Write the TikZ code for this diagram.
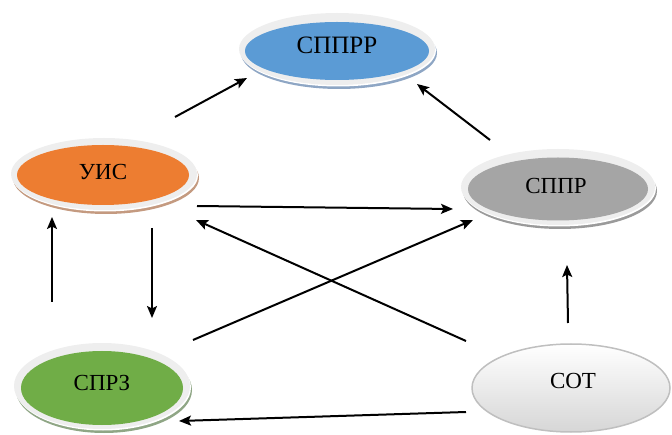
\documentclass[tikz,border=0pt]{standalone}
\usepackage{fontspec}
\setmainfont{Liberation Serif}
\usetikzlibrary{arrows.meta,shapes.geometric}
\definecolor{ringc}{HTML}{EEEEEE}
\definecolor{bluec}{HTML}{5B9BD5}
\definecolor{blueshadow}{HTML}{8EA6C4}
\definecolor{orangec}{HTML}{ED7D31}
\definecolor{orangeshadow}{HTML}{C49A80}
\definecolor{grayc}{HTML}{A5A5A5}
\definecolor{grayshadow}{HTML}{9A9A9A}
\definecolor{greenc}{HTML}{70AD47}
\definecolor{greenshadow}{HTML}{8FA685}
\definecolor{cotborder}{HTML}{BFBFBF}
\tikzset{
  lbl/.style={font=\fontsize{23}{27}\selectfont, text=black, inner sep=0pt},
  conn/.style={line width=2pt, -{Stealth[length=12pt,width=10pt,inset=2.5pt]}},
}
\begin{document}
\begin{tikzpicture}[x=1pt,y=-1pt]
\useasboundingbox (0,0) rectangle (672,435);
% СППРР
\fill[blueshadow] (339,53) ellipse [x radius=98, y radius=36];
\fill[white] (338,50.5) ellipse [x radius=98, y radius=36];
\fill[ringc] (337,49) ellipse [x radius=98, y radius=36];
\fill[bluec] (337,51) ellipse [x radius=92, y radius=29];
\node[lbl, font=\fontsize{25}{29}\selectfont] (spprr) at (337,45) {СППРР};
% УИС
\fill[orangeshadow] (106,178) ellipse [x radius=93, y radius=36];
\fill[white] (105,175.5) ellipse [x radius=93, y radius=36];
\fill[ringc] (104,174) ellipse [x radius=93, y radius=36];
\fill[orangec] (103,175) ellipse [x radius=86, y radius=30];
\node[lbl] (uis) at (103,172) {УИС};
% СППР
\fill[grayshadow] (560,191) ellipse [x radius=97, y radius=38];
\fill[white] (559,188.5) ellipse [x radius=97, y radius=38];
\fill[ringc] (558,187) ellipse [x radius=97, y radius=38];
\fill[grayc] (558,189) ellipse [x radius=90, y radius=31.5];
\node[lbl] (sppr) at (556,186) {СППР};
% СПРЗ
\fill[greenshadow] (104,390) ellipse [x radius=88, y radius=43];
\fill[white] (103,387.5) ellipse [x radius=88, y radius=43];
\fill[ringc] (102,386) ellipse [x radius=88, y radius=43];
\fill[greenc] (102,388) ellipse [x radius=81, y radius=37];
\node[lbl] (sprz) at (102,383) {СПРЗ};
% СОТ
\shade[top color=white, bottom color=black!16, draw=cotborder, line width=1.5pt]
  (571,388) ellipse [x radius=99, y radius=44];
\node[lbl] (cot) at (573,381) {СОТ};
% connector end points
\coordinate (a1s) at (175,117); \coordinate (a1e) at (247,78);
\coordinate (a2s) at (490,140); \coordinate (a2e) at (417,84);
\coordinate (a3s) at (197,206); \coordinate (a3e) at (453,209);
\coordinate (a4s) at (152,228); \coordinate (a4e) at (152,318);
\coordinate (a5s) at (52,302);  \coordinate (a5e) at (52,217);
\coordinate (a6s) at (193,340); \coordinate (a6e) at (473,220);
\coordinate (a7s) at (466,341); \coordinate (a7e) at (196,220);
\coordinate (a8s) at (568,323); \coordinate (a8e) at (567,265);
\coordinate (a9s) at (466,412); \coordinate (a9e) at (179,421);
\draw[conn] (a1s) -- (a1e);
\draw[conn] (a2s) -- (a2e);
\draw[conn] (a3s) -- (a3e);
\draw[conn] (a4s) -- (a4e);
\draw[conn] (a5s) -- (a5e);
\draw[conn] (a6s) -- (a6e);
\draw[conn] (a7s) -- (a7e);
\draw[conn] (a8s) -- (a8e);
\draw[conn] (a9s) -- (a9e);
\end{tikzpicture}
\end{document}
